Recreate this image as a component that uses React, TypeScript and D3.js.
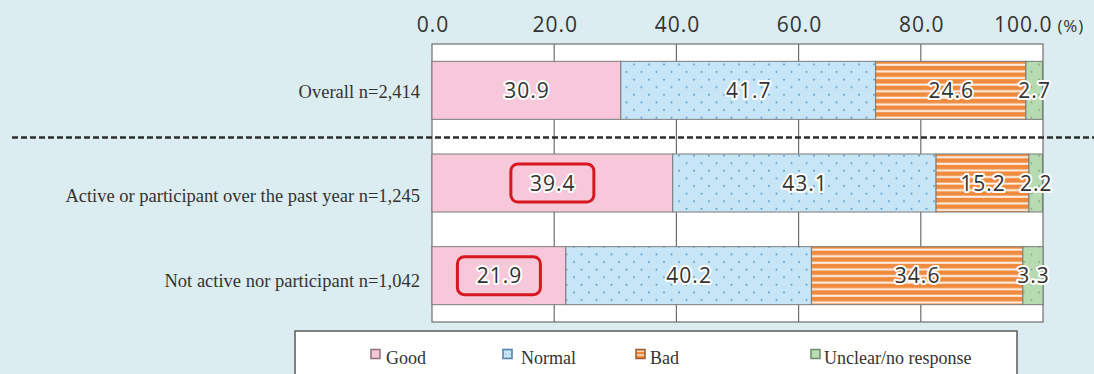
import React from "react";
import * as d3 from "d3";

// Response categories (stack order, left to right)
const seriesNames = ["Good", "Normal", "Bad", "Unclear/no response"];

// Respondent groups (rows, top to bottom)
const groups = [
  "Overall n=2,414",
  "Active or participant over the past year n=1,245",
  "Not active nor participant n=1,042",
];

// Share of respondents (%) per group, one array per response category
const good = [30.9, 39.4, 21.9];
const normal = [41.7, 43.1, 40.2];
const bad = [24.6, 15.2, 34.6];
const unclear = [2.7, 2.2, 3.3];

// Axis ticks
const tickValues = [0, 20, 40, 60, 80, 100];

// Values singled out with a red frame: [group index, series index]
const highlighted: [number, number][] = [
  [1, 0],
  [2, 0],
];

const W = 1094;
const H = 374;
const BG = "#dcedf1";
const TEXT = "#333333";
const GRID = "#6e6e6e";

const fills = ["#f7c8da", "url(#dots-blue)", "url(#stripes-orange)", "url(#dots-green)"];
const legendFills = ["#f3c9d8", "url(#dots-blue-sm)", "url(#stripes-orange-sm)", "#b9dcb4"];
const legendStrokes = ["#8f6f7d", "#4f7fa3", "#9a5a2c", "#6d8f6a"];

// Legend layout: swatch x and label x for each entry
const legendSwatchX = [371, 503, 636, 811];
const legendTextX = [386, 521, 650, 824];

// Per-row vertical nudge of the group labels
const labelNudge = [2, 13, 5];

const valueFont: React.CSSProperties = {
  fontFamily: "'Open Sans', sans-serif",
};
const serifFont: React.CSSProperties = {
  fontFamily: "'Liberation Serif', 'DejaVu Serif', serif",
};

export default function App() {
  const x = d3.scaleLinear().domain([0, 100]).range([432, 1043]);
  const y = d3
    .scaleBand<string>()
    .domain(groups)
    .range([44, 322])
    .paddingInner(0.374)
    .paddingOuter(0.187);

  const table = groups.map((g, i) => ({
    group: g,
    Good: good[i],
    Normal: normal[i],
    Bad: bad[i],
    "Unclear/no response": unclear[i],
  }));
  const stacked = d3.stack<any>().keys(seriesNames)(table);

  const [x0, x1] = x.range();
  const [plotTop, plotBottom] = y.range();
  const bw = y.bandwidth();

  const dashY = (y(groups[0])! + bw + y(groups[1])!) / 2 + 0.8;

  return (
    <svg
      width={W}
      height={H}
      viewBox={`0 0 ${W} ${H}`}
      style={{ position: "absolute", left: 0, top: 0, display: "block" }}
    >
      <defs>
        <pattern id="dots-blue" width="15" height="15.2" patternUnits="userSpaceOnUse">
          <rect width="15" height="15.2" fill="#c6e6f8" />
          <circle cx="4" cy="3.5" r="1" fill="#5e9cc6" />
          <circle cx="11.5" cy="11.1" r="1" fill="#5e9cc6" />
        </pattern>
        <pattern id="dots-green" width="15" height="15.2" patternUnits="userSpaceOnUse">
          <rect width="15" height="15.2" fill="#b6dbb0" />
          <circle cx="4" cy="3.5" r="0.9" fill="#7fa97c" />
          <circle cx="11.5" cy="11.1" r="0.9" fill="#7fa97c" />
        </pattern>
        <pattern id="stripes-orange" width="10" height="6.6" patternUnits="userSpaceOnUse">
          <rect width="10" height="6.6" fill="#ef8a3e" />
          <rect y="4.4" width="10" height="2" fill="#fdf3ea" />
        </pattern>
        <pattern id="dots-blue-sm" width="4" height="4" patternUnits="userSpaceOnUse">
          <rect width="4" height="4" fill="#c6e6f8" />
          <circle cx="2" cy="2" r="0.6" fill="#5e9cc6" />
        </pattern>
        <pattern id="stripes-orange-sm" width="4" height="4" patternUnits="userSpaceOnUse">
          <rect width="4" height="4" fill="#ef8a3e" />
          <rect y="2.5" width="4" height="1.2" fill="#fdf3ea" />
        </pattern>
      </defs>

      <rect width={W} height={H} fill={BG} />

      {/* plot area */}
      <rect
        x={x0}
        y={plotTop}
        width={x1 - x0}
        height={plotBottom - plotTop}
        fill="#ffffff"
        stroke={GRID}
        strokeWidth={1.2}
      />
      {tickValues
        .filter((t) => t > 0 && t < 100)
        .map((t) => (
          <line
            key={t}
            x1={x(t)}
            x2={x(t)}
            y1={plotTop}
            y2={plotBottom}
            stroke={GRID}
            strokeWidth={1.2}
          />
        ))}

      {/* axis tick labels */}
      {tickValues.map((t, i) => {
        const last = i === tickValues.length - 1;
        return (
          <text
            key={t}
            x={x(t) + (last ? -4 : 1)}
            y={32}
            textAnchor="middle"
            style={{ ...valueFont, fontSize: 21, letterSpacing: 1 }}
            fill={TEXT}
          >
            {t.toFixed(1)}
            {last && (
              <tspan style={{ fontSize: 17, letterSpacing: 0.8 }} dx={5}>
                (%)
              </tspan>
            )}
          </text>
        );
      })}

      {/* stacked bars */}
      {stacked.map((s, si) =>
        s.map((d, gi) => (
          <rect
            key={`${si}-${gi}`}
            x={x(d[0])}
            y={y(groups[gi])}
            width={x(d[1]) - x(d[0])}
            height={bw}
            fill={fills[si]}
            stroke="#7a7a7a"
            strokeWidth={1}
          />
        ))
      )}

      {/* highlighted value frames */}
      {highlighted.map(([gi, si]) => {
        const d = stacked[si][gi];
        const cx = x((d[0] + d[1]) / 2);
        const cy = y(groups[gi])! + bw / 2;
        return (
          <rect
            key={`hl-${gi}-${si}`}
            x={cx - 41.5}
            y={cy - 19}
            width={83}
            height={38}
            rx={7}
            fill="none"
            stroke="#d7171f"
            strokeWidth={3}
          />
        );
      })}

      {/* value labels */}
      {stacked.map((s, si) =>
        s.map((d, gi) => {
          const v = d[1] - d[0];
          const cx = x((d[0] + d[1]) / 2);
          const cy = y(groups[gi])! + bw / 2;
          return (
            <text
              key={`v-${si}-${gi}`}
              x={cx + 0.5}
              y={cy}
              dy="0.36em"
              textAnchor="middle"
              style={{ ...valueFont, fontSize: 21, letterSpacing: 1 }}
              fill={TEXT}
              stroke="#ffffff"
              strokeWidth={4}
              strokeLinejoin="round"
              paintOrder="stroke"
            >
              {v.toFixed(1)}
            </text>
          );
        })
      )}

      {/* group labels */}
      {groups.map((g, gi) => (
        <text
          key={g}
          x={420}
          y={y(g)! + bw / 2 + labelNudge[gi]}
          dy="0.33em"
          textAnchor="end"
          style={{ ...serifFont, fontSize: 18.5 }}
          fill={TEXT}
        >
          {g}
        </text>
      ))}

      {/* separator between the overall row and the sub-groups */}
      <line
        x1={12}
        x2={W}
        y1={dashY}
        y2={dashY}
        stroke="#2e2e2e"
        strokeWidth={2.5}
        strokeDasharray="6 3"
      />

      {/* legend */}
      <rect x={295} y={331} width={722} height={60} fill="#ffffff" stroke="#5a5a5a" strokeWidth={1.5} />
      {seriesNames.map((name, i) => (
        <g key={name}>
          <rect
            x={legendSwatchX[i]}
            y={349.5}
            width={9}
            height={9}
            fill={legendFills[i]}
            stroke={legendStrokes[i]}
            strokeWidth={1.5}
          />
          <text x={legendTextX[i]} y={364} style={{ ...serifFont, fontSize: 18 }} fill={TEXT}>
            {name}
          </text>
        </g>
      ))}
    </svg>
  );
}
